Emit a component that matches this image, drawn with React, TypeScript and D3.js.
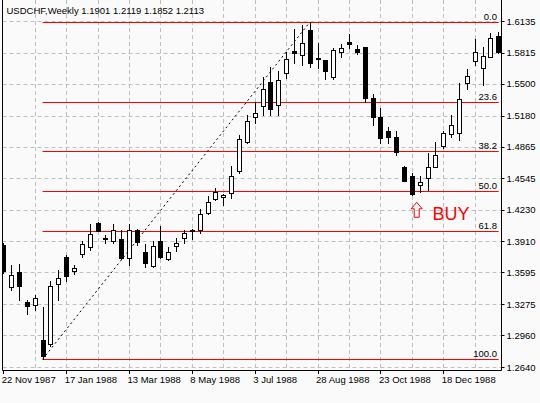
import * as d3 from 'd3';

// Weekly USDCHF candles, 22 Nov 1987 onwards
const START = Date.UTC(1987, 10, 22);
const WEEK = 7 * 864e5;

const OPEN = [
  1.3872, 1.3448, 1.3597, 1.3294, 1.3269, 1.2910, 1.2872, 1.3475, 1.3754, 1.3607,
  1.3781, 1.3855, 1.4092, 1.3948, 1.3916, 1.3933, 1.3738, 1.4024, 1.3802, 1.3660,
  1.3913, 1.3728, 1.3862, 1.3940, 1.4024, 1.4024, 1.4193, 1.4334, 1.4354, 1.4395,
  1.4623, 1.4908, 1.5162, 1.5276, 1.5516, 1.5287, 1.5607, 1.5832, 1.5792, 1.6044,
  1.5766, 1.5741, 1.5572, 1.5825, 1.5923, 1.5852, 1.5875, 1.5354, 1.5168, 1.5024,
  1.4966, 1.4663, 1.4569, 1.4478, 1.4546, 1.4663, 1.4872, 1.4991, 1.5004, 1.5512,
  1.5734, 1.5657, 1.5768, 1.5983,
];
const HIGH = [
  1.3893, 1.3670, 1.3680, 1.3320, 1.3370, 1.3246, 1.3506, 1.3623, 1.3771, 1.3670,
  1.3916, 1.4081, 1.4100, 1.3973, 1.4081, 1.4024, 1.4081, 1.4034, 1.3879, 1.3913,
  1.4064, 1.3855, 1.3940, 1.4024, 1.4031, 1.4236, 1.4370, 1.4445, 1.4383, 1.4670,
  1.4983, 1.5186, 1.5314, 1.5566, 1.5673, 1.5633, 1.5825, 1.6051, 1.6095, 1.6122,
  1.5916, 1.5741, 1.5859, 1.5903, 1.6001, 1.5893, 1.5875, 1.5395, 1.5253, 1.5067,
  1.5027, 1.4670, 1.4597, 1.4569, 1.4799, 1.4916, 1.5027, 1.5186, 1.5506, 1.5650,
  1.5950, 1.5875, 1.6017, 1.6027,
];
const LOW = [
  1.3590, 1.3415, 1.3320, 1.3178, 1.3219, 1.2718, 1.2857, 1.3314, 1.3509, 1.3583,
  1.3751, 1.3822, 1.4009, 1.3890, 1.3890, 1.3728, 1.3670, 1.3872, 1.3647, 1.3647,
  1.3738, 1.3721, 1.3815, 1.3890, 1.3930, 1.3991, 1.4186, 1.4322, 1.4276, 1.4350,
  1.4600, 1.4903, 1.5102, 1.5186, 1.5186, 1.5186, 1.5556, 1.5708, 1.5690, 1.5673,
  1.5657, 1.5546, 1.5546, 1.5768, 1.5859, 1.5799, 1.5320, 1.5085, 1.4906, 1.4906,
  1.4781, 1.4519, 1.4377, 1.4405, 1.4428, 1.4657, 1.4849, 1.4963, 1.4933, 1.5445,
  1.5690, 1.5489, 1.5768, 1.5809,
];
const CLOSE = [
  1.3610, 1.3572, 1.3461, 1.3253, 1.3337, 1.2754, 1.3455, 1.3539, 1.3556, 1.3640,
  1.3882, 1.3980, 1.4017, 1.3933, 1.4024, 1.3744, 1.4024, 1.3906, 1.3688, 1.3862,
  1.3754, 1.3805, 1.3890, 1.3991, 1.4011, 1.4182, 1.4304, 1.4405, 1.4374, 1.4569,
  1.4943, 1.5125, 1.5203, 1.5445, 1.5243, 1.5536, 1.5754, 1.5812, 1.5916, 1.5714,
  1.5751, 1.5633, 1.5842, 1.5859, 1.5898, 1.5825, 1.5354, 1.5168, 1.4950, 1.4966,
  1.4815, 1.4522, 1.4385, 1.4509, 1.4657, 1.4781, 1.5001, 1.5085, 1.5347, 1.5579,
  1.5825, 1.5781, 1.5960, 1.5825,
];

const PRICE_TICKS = [1.6135, 1.5815, 1.55, 1.518, 1.4865, 1.4545, 1.423, 1.391, 1.3595, 1.3275, 1.296, 1.264];
const FIB_LEVELS = [0, 23.6, 38.2, 50, 61.8, 100];
const FIB_LOW_IDX = 5;
const FIB_HIGH_IDX = 39;
const TITLE = 'USDCHF,Weekly  1.1901 1.2119 1.1852 1.2113';

const W = 540;
const H = 403;
const LEFT = 2.5;
const RIGHT = 501.5;
const BOTTOM = 370.5;

export default function App() {
  const dates = OPEN.map((_, i) => new Date(START + i * WEEK));
  const x = d3.scaleUtc()
    .domain([new Date(START), new Date(START + 56 * WEEK)])
    .range([3.3, 443.3]);
  const y = d3.scaleLinear().domain([1.264, 1.6135]).range([367, 21]);
  const fmt = d3.utcFormat('%-d %b %Y');

  const xTicks = dates.filter((_, i) => i % 8 === 0);
  const xGrid = dates.filter((_, i) => i % 4 === 0 && i > 0);

  const fibHigh = HIGH[FIB_HIGH_IDX];
  const fibLow = LOW[FIB_LOW_IDX];
  const fibX0 = x(dates[FIB_LOW_IDX]);
  const fibX1 = 498.7;
  const fibPrice = (l: number) => fibHigh - (fibHigh - fibLow) * l / 100;

  const crisp = (v: number) => Math.round(v) + 0.5;
  const font = '"Liberation Sans", Arial, sans-serif';

  // BUY marker under the 50% level
  const buyX = x(dates[53]) - 3;
  const buyY = y(fibPrice(50)) + 11.5;
  const arrow = [
    [buyX, buyY], [buyX + 5.5, buyY + 6.5], [buyX + 2.5, buyY + 6.5], [buyX + 2.5, buyY + 15],
    [buyX - 2.5, buyY + 15], [buyX - 2.5, buyY + 6.5], [buyX - 5.5, buyY + 6.5],
  ].map(p => p.join(',')).join(' ');

  return (
    <svg width={W} height={H} style={{ position: 'absolute', left: 0, top: 0, background: '#fafafa' }}>
      <defs>
        <clipPath id="plot">
          <rect x={LEFT + 0.5} y={0} width={RIGHT - LEFT - 1} height={BOTTOM} />
        </clipPath>
      </defs>

      {/* grid */}
      <g stroke="#c0c0c0" strokeDasharray="4,3" strokeWidth={1}>
        {PRICE_TICKS.map(v => (
          <line key={v} x1={LEFT} x2={RIGHT} y1={crisp(y(v))} y2={crisp(y(v))} />
        ))}
        {xGrid.map(d => (
          <line key={+d} x1={crisp(x(d))} x2={crisp(x(d))} y1={0} y2={BOTTOM} />
        ))}
      </g>

      {/* fibonacci levels */}
      <g>
        {FIB_LEVELS.map(l => {
          const yy = crisp(y(fibPrice(l)));
          return (
            <g key={l}>
              <line x1={fibX0} x2={fibX1} y1={yy} y2={yy} stroke="#ff0000" strokeWidth={1} />
              <text x={497} y={yy - 2.5} textAnchor="end" fontFamily={font} fontSize={9.5} fill="#000">
                {l.toFixed(1)}
              </text>
            </g>
          );
        })}
      </g>

      {/* trend line low -> high */}
      <line
        x1={fibX0} y1={y(fibLow)} x2={x(dates[FIB_HIGH_IDX])} y2={y(fibHigh)}
        stroke="#000" strokeWidth={1} strokeDasharray="2,3"
      />

      {/* candles */}
      <g clipPath="url(#plot)">
        {dates.map((d, i) => {
          const o = OPEN[i], c = CLOSE[i];
          const cx = crisp(x(d));
          const top = Math.round(y(Math.max(o, c)));
          const bot = Math.round(y(Math.min(o, c)));
          const bull = c >= o;
          return (
            <g key={i}>
              <line x1={cx} x2={cx} y1={Math.round(y(HIGH[i]))} y2={Math.round(y(LOW[i])) + 1} stroke="#000" />
              <rect
                x={cx - 2} y={top + 0.5} width={4} height={Math.max(1, bot - top)}
                fill={bull ? '#ffffff' : '#000000'} stroke="#000" strokeWidth={1}
              />
            </g>
          );
        })}
      </g>

      {/* buy annotation */}
      <polygon points={arrow} fill="none" stroke="#ff0000" strokeWidth={1} />
      <text x={432.5} y={219.5} fontFamily={font} fontSize={18} fill="#ff0000">BUY</text>

      {/* frame and axes */}
      <g stroke="#000" strokeWidth={1}>
        <line x1={LEFT} x2={LEFT} y1={0} y2={BOTTOM} />
        <line x1={RIGHT} x2={RIGHT} y1={0} y2={BOTTOM} />
        <line x1={LEFT} x2={RIGHT} y1={BOTTOM} y2={BOTTOM} />
        {PRICE_TICKS.map(v => (
          <line key={v} x1={RIGHT} x2={RIGHT + 3} y1={crisp(y(v))} y2={crisp(y(v))} />
        ))}
        {xTicks.map(d => (
          <line key={+d} x1={crisp(x(d))} x2={crisp(x(d))} y1={BOTTOM} y2={BOTTOM + 3.5} />
        ))}
      </g>

      <g fontFamily={font} fontSize={9.5} fill="#000">
        {PRICE_TICKS.map(v => (
          <text key={v} x={506.5} y={y(v) + 3.5}>{v.toFixed(4)}</text>
        ))}
        {xTicks.map(d => (
          <text key={+d} x={x(d) - 1.5} y={382.5}>{fmt(d)}</text>
        ))}
        <text x={6.5} y={14}>{TITLE}</text>
      </g>
    </svg>
  );
}
